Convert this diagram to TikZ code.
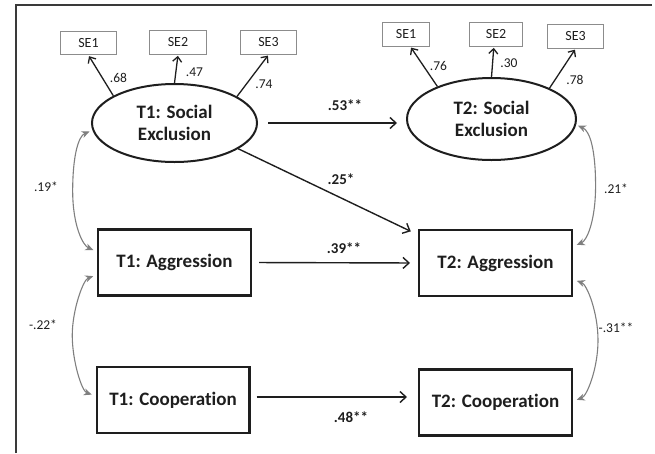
\documentclass[tikz,border=0pt]{standalone}
\usepackage{fontspec}
\setmainfont{Carlito}[Ligatures=NoCommon]
\usetikzlibrary{arrows.meta,shapes.geometric,calc}
\definecolor{ink}{HTML}{1E1E1E}
\definecolor{corrgray}{HTML}{7F7F7F}
\definecolor{segray}{HTML}{8C8C8C}
\definecolor{framecol}{HTML}{3A3A3A}
\begin{document}
\begin{tikzpicture}[x=1pt,y=-1pt,
  box/.style={draw=ink,line width=2.4pt,minimum width=152.6pt,minimum height=66pt,inner sep=0pt,font=\fontsize{19}{22}\selectfont\bfseries,text=ink},
  latent/.style={ellipse,draw=ink,line width=2pt,inner sep=0pt,align=center,font=\fontsize{19}{22}\selectfont\bfseries,text=ink},
  sebox/.style={draw=segray,line width=1.1pt,minimum height=23.5pt,inner sep=0pt,font=\fontsize{14}{16}\selectfont,text=ink},
  main/.style={draw=ink,line width=1.4pt,-{Straight Barb[length=6pt,width=11pt]}},
  load/.style={draw=ink,line width=1.3pt,-{Straight Barb[length=5pt,width=9pt]},shorten >=1pt},
  corr/.style={draw=corrgray,line width=1.1pt,{Stealth[length=8pt,width=7pt,inset=2.5pt]}-{Stealth[length=8pt,width=7pt,inset=2.5pt]},shorten <=4pt,shorten >=4pt},
  plab/.style={font=\fontsize{15}{17}\selectfont\bfseries,text=ink,inner sep=0pt},
  llab/.style={font=\fontsize{13.5}{15}\selectfont,text=ink,inner sep=0pt}
]
\useasboundingbox (0,0) rectangle (655,453);
% frame
\draw[framecol,line width=1.5pt] (16,453) -- (16,5) -- (652,5);

% latent variables
\node[latent,minimum width=165pt,minimum height=78pt] (e1) at (174.5,123) {T1: Social\\Exclusion};
\node[latent,minimum width=169pt,minimum height=82pt] (e2) at (491.5,119) {T2: Social\\Exclusion};

% observed boxes
\node[box] (a1) at (174.5,262.5) {T1: Aggression};
\node[box] (b2) at (495.5,263) {T2: Aggression};
\node[box] (c1) at (173,400) {T1: Cooperation};
\node[box] (c2) at (495.5,402.5) {T2: Cooperation};

% indicators
\node[sebox,minimum width=56pt] (s11) at (88.5,43) {SE1};
\node[sebox,minimum width=57pt] (s12) at (178,42.5) {SE2};
\node[sebox,minimum width=56pt] (s13) at (268.5,42.5) {SE3};
\node[sebox,minimum width=47pt] (s21) at (406,34.5) {SE1};
\node[sebox,minimum width=53pt] (s22) at (496,34.5) {SE2};
\node[sebox,minimum width=56pt] (s23) at (575.5,36.5) {SE3};

% loadings
\draw[load] (e1.156) -- (s11.south);
\draw[load] (e1.north) -- (s12.south);
\draw[load] (e1.23) -- (s13.south);
\draw[load] (e2.149) -- (s21.-70);
\draw[load] (e2.north) -- (s22.-100);
\draw[load] (e2.28) -- (s23.south);
\node[llab] (l11) at (118.5,77.5) {.68};
\node[llab] (l12) at (194.5,72.5) {.47};
\node[llab] (l13) at (264,84) {.74};
\node[llab] (l21) at (438.5,66) {.76};
\node[llab] (l22) at (509,63.5) {.30};
\node[llab] (l23) at (575,79.5) {.78};

% structural paths
\draw[main,shorten <=10pt,shorten >=9pt] (e1.east) -- (e2.west |- e1.east);
\draw[main,shorten >=8pt] (e1.-22) -- (b2.160);
\draw[main,shorten <=7pt,shorten >=8pt] (a1.east) -- (b2.west);
\draw[main,shorten <=6pt,shorten >=11pt] ([yshift=3pt]c1.east) -- ([yshift=3pt]c1.east -| c2.west);
\node[plab] (p1) at (345,105) {.53**};
\node[plab] (p2) at (341,179) {.25*};
\node[plab] (p3) at (344,248) {.39**};
\node[plab] (p4) at (351,417) {.48**};

% correlations
\draw[corr,shorten <=3pt] (e1.185) .. controls +(-14,6) and +(0,-35) .. ($(e1.185)!.5!(a1.172)+(-22,0)$) .. controls +(0,35) and +(-14,-6) .. (a1.172);
\draw[corr] (a1.189) .. controls +(-14,5) and +(0,-25) .. ($(a1.189)!.5!(c1.177)+(-24,0)$) .. controls +(0,25) and +(-14,-5) .. (c1.177);
\draw[corr,shorten <=2pt] (e2.-4) .. controls +(14,6) and +(0,-35) .. ($(e2.-4)!.5!(b2.12)+(21,0)$) .. controls +(0,35) and +(14,-6) .. (b2.12);
\draw[corr] (b2.-12) .. controls +(14,5) and +(0,-28) .. ($(b2.-12)!.5!(c2.1)+(25,0)$) .. controls +(0,28) and +(14,-5) .. (c2.1);
\node[llab] (r1) at (46,187) {.19*};
\node[llab] (r2) at (43,325) {-.22*};
\node[llab] (r3) at (616,189) {.21*};
\node[llab] (r4) at (616,328) {-.31**};
\end{tikzpicture}
\end{document}
